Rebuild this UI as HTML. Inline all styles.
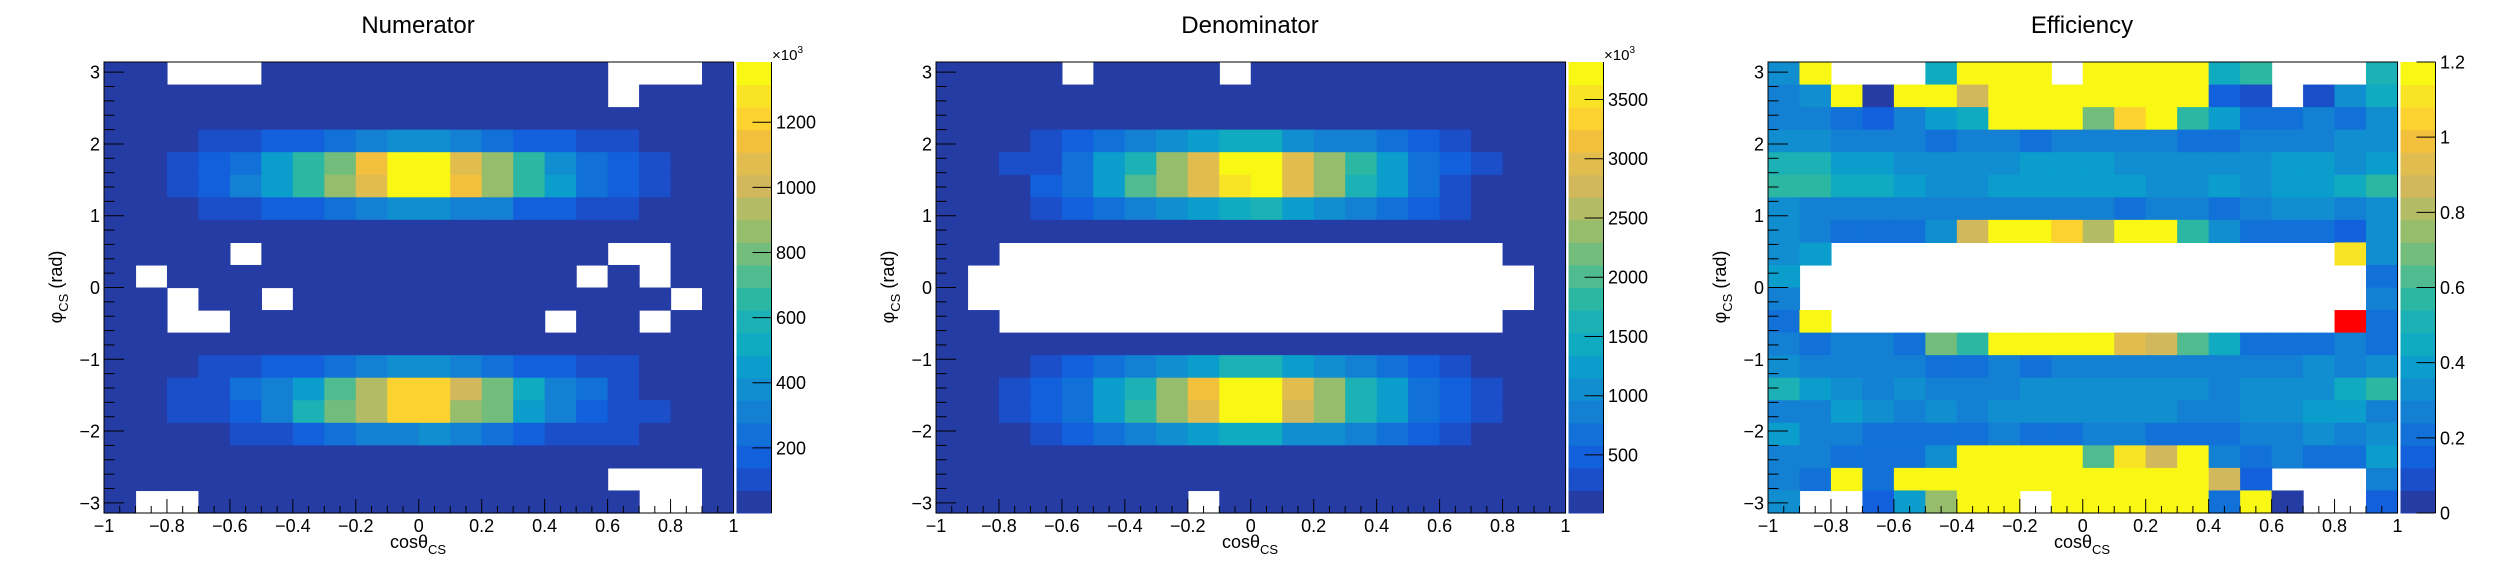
<!DOCTYPE html>
<html><head><meta charset="utf-8"><style>
html,body{margin:0;padding:0;background:#fff;}
svg{display:block;font-family:"Liberation Sans",sans-serif;}
</style></head><body>
<svg id="chart" width="2496" height="572" viewBox="0 0 2496 572" xmlns="http://www.w3.org/2000/svg"></svg>
<script>
// ---- data ----
const xEdges = [-1,-0.9,-0.8,-0.7,-0.6,-0.5,-0.4,-0.3,-0.2,-0.1,0,0.1,0.2,0.3,0.4,0.5,0.6,0.7,0.8,0.9,1];
const xTickLabels = ["\u22121","\u22120.8","\u22120.6","\u22120.4","\u22120.2","0","0.2","0.4","0.6","0.8","1"];
const yTickLabels = ["\u22123","\u22122","\u22121","0","1","2","3"];
const numTicks = [200,400,600,800,1000,1200];
const denTicks = [500,1000,1500,2000,2500,3000,3500];
const effTicks = [0,0.2,0.4,0.6,0.8,1,1.2];
const titles = ["Numerator","Denominator","Efficiency"];
const B=35, D=105;
// numerator (x10^3), rows from phi=+pi (top) down to -pi, 0 = empty
const numerator = [
[B,B,0,0,0,B,B,B,B,B,B,B,B,B,B,B,0,0,0,B],
[B,B,B,B,B,B,B,B,B,B,B,B,B,B,B,B,0,B,B,B],
[B,B,B,B,B,B,B,B,B,B,B,B,B,B,B,B,B,B,B,B],
[B,B,B,104,104,173,173,243,312,381,381,312,243,173,173,104,104,B,B,B],
[B,B,104,173,243,450,658,796,1142,1350,1350,1073,865,658,381,243,173,104,B,B],
[B,B,104,173,312,450,658,865,1073,1350,1350,1142,865,658,450,243,173,104,B,B],
[B,B,B,104,104,173,173,243,312,381,381,312,312,173,173,104,104,B,B,B],
[B,B,B,B,B,B,B,B,B,B,B,B,B,B,B,B,B,B,B,B],
[B,B,B,B,0,B,B,B,B,B,B,B,B,B,B,B,0,0,B,B],
[B,0,B,B,B,B,B,B,B,B,B,B,B,B,B,0,B,0,B,B],
[B,B,0,B,B,0,B,B,B,B,B,B,B,B,B,B,B,B,0,B],
[B,B,0,0,B,B,B,B,B,B,B,B,B,B,0,B,B,0,B,B],
[B,B,B,B,B,B,B,B,B,B,B,B,B,B,B,B,B,B,B,B],
[B,B,B,104,104,173,173,243,312,381,381,312,243,173,173,104,104,B,B,B],
[B,B,104,104,243,312,450,727,935,1211,1211,1004,796,519,312,243,104,B,B,B],
[B,B,104,104,173,312,589,796,935,1211,1211,865,796,450,312,173,104,104,B,B],
[B,B,B,B,104,104,173,243,312,312,381,312,243,173,104,104,104,B,B,B],
[B,B,B,B,B,B,B,B,B,B,B,B,B,B,B,B,B,B,B,B],
[B,B,B,B,B,B,B,B,B,B,B,B,B,B,B,B,0,0,0,B],
[B,0,0,B,B,B,B,B,B,B,B,B,B,B,B,B,B,0,0,B]];
const denominator = [
[D,D,D,D,0,D,D,D,D,0,D,D,D,D,D,D,D,D,D,D],
[D,D,D,D,D,D,D,D,D,D,D,D,D,D,D,D,D,D,D,D],
[D,D,D,D,D,D,D,D,D,D,D,D,D,D,D,D,D,D,D,D],
[D,D,D,295,486,676,866,1057,1247,1437,1437,1057,866,866,676,486,295,D,D,D],
[D,D,295,295,676,1247,1627,2389,2959,3720,3720,2959,2389,1818,1247,676,486,295,D,D],
[D,D,D,486,676,1247,2008,2389,2959,3530,3720,2959,2389,1627,1247,676,295,D,D,D],
[D,D,D,295,486,676,866,1057,1247,1437,1627,1247,1057,866,676,486,295,D,D,D],
[D,D,D,D,D,D,D,D,D,D,D,D,D,D,D,D,D,D,D,D],
[D,D,0,0,0,0,0,0,0,0,0,0,0,0,0,0,0,0,D,D],
[D,0,0,0,0,0,0,0,0,0,0,0,0,0,0,0,0,0,0,D],
[D,0,0,0,0,0,0,0,0,0,0,0,0,0,0,0,0,0,0,D],
[D,D,0,0,0,0,0,0,0,0,0,0,0,0,0,0,0,0,D,D],
[D,D,D,D,D,D,D,D,D,D,D,D,D,D,D,D,D,D,D,D],
[D,D,D,295,486,676,866,1057,1247,1627,1627,1247,1057,866,676,486,295,D,D,D],
[D,D,295,486,676,1247,1627,2389,3150,3720,3720,2959,2389,1627,1247,676,486,295,D,D],
[D,D,295,486,676,1247,1818,2389,2959,3720,3720,2769,2389,1627,1247,676,486,295,D,D],
[D,D,D,295,486,676,866,1057,1247,1437,1437,1057,1057,866,676,486,295,D,D,D],
[D,D,D,D,D,D,D,D,D,D,D,D,D,D,D,D,D,D,D,D],
[D,D,D,D,D,D,D,D,D,D,D,D,D,D,D,D,D,D,D,D],
[D,D,D,D,D,D,D,D,0,D,D,D,D,D,D,D,D,D,D,D]];
const N=null, INF=Infinity;
const efficiency = [
[.33,1.5,N,N,N,.45,1.5,1.5,1.5,N,1.5,1.5,1.5,1.5,.45,.57,N,N,N,.51],
[.27,.33,1.5,.03,1.5,1.5,.87,1.5,1.5,1.5,1.5,1.5,1.5,1.5,.15,.09,N,.09,.33,.45],
[.27,.27,.21,.15,.27,.39,.45,1.5,1.5,1.5,.69,1.05,1.5,.57,.39,.21,.21,.27,.21,.33],
[.33,.33,.27,.27,.27,.21,.27,.27,.21,.27,.27,.27,.27,.21,.21,.27,.27,.27,.33,.33],
[.51,.51,.39,.39,.33,.33,.33,.33,.39,.39,.39,.33,.33,.33,.33,.33,.39,.39,.33,.39],
[.57,.57,.45,.45,.39,.33,.33,.39,.39,.39,.39,.39,.33,.33,.39,.33,.39,.39,.45,.57],
[.33,.27,.27,.27,.27,.27,.27,.27,.27,.27,.27,.21,.27,.27,.21,.27,.33,.33,.27,.33],
[.33,.27,.21,.21,.21,.33,.87,1.5,1.5,1.05,.81,1.5,1.5,.57,.33,.21,.21,.21,.15,.33],
[.33,.39,N,N,N,N,N,N,N,N,N,N,N,N,N,N,N,N,1.11,.33],
[.39,N,N,N,N,N,N,N,N,N,N,N,N,N,N,N,N,N,N,.21],
[.27,N,N,N,N,N,N,N,N,N,N,N,N,N,N,N,N,N,N,.27],
[.21,1.5,N,N,N,N,N,N,N,N,N,N,N,N,N,N,N,N,INF,.21],
[.27,.21,.27,.27,.21,.69,.57,1.5,1.5,1.5,1.5,.93,.87,.63,.45,.21,.21,.21,.27,.21],
[.33,.27,.27,.27,.27,.21,.21,.27,.21,.27,.27,.27,.27,.27,.27,.27,.27,.33,.27,.33],
[.51,.39,.33,.27,.33,.27,.27,.27,.33,.33,.33,.33,.33,.33,.27,.33,.33,.33,.45,.57],
[.27,.27,.39,.33,.27,.33,.27,.33,.33,.33,.33,.33,.33,.27,.27,.33,.33,.39,.39,.27],
[.39,.27,.27,.21,.21,.21,.21,.27,.21,.21,.27,.27,.21,.21,.21,.27,.27,.33,.27,.33],
[.27,.27,.21,.21,.21,.33,1.5,1.5,1.5,1.5,.63,1.11,.87,1.5,.27,.21,.27,.21,.21,.39],
[.27,.21,1.5,.21,1.5,1.5,1.5,1.5,1.5,1.5,1.5,1.5,1.5,1.5,.87,.15,N,N,N,.27],
[.33,N,N,.15,.39,.75,1.5,1.5,N,1.5,1.5,1.5,1.5,1.5,.21,1.5,.03,N,N,.15]];
const zRanges = [[0,1385],[10,3816],[0,1.2]];
const palette = ["#263ca5","#1a4fc9","#1260dc","#1171d8","#1380d3","#108ecf","#0b9ecd","#10abc0","#1cb1b4","#2cb7a2","#4fbb8e","#73bd7c","#95bd6c","#b3bc65","#d2b85c","#e1bd4f","#f3c03e","#fbd22f","#f8e424","#f8f814"];

// ---- drawing ----
const NS="http://www.w3.org/2000/svg";
const svg=document.getElementById('chart');
function mk(tag,attrs,parent){const e=document.createElementNS(NS,tag);for(const k in attrs)e.setAttribute(k,attrs[k]);parent.appendChild(e);return e;}
const PL=104, PR=733.5, PT=62, PB=513, CL=736.5, CR=771.5;
const PI=Math.PI;
function sx(v){return PL+(v+1)/2*(PR-PL);}
function sy(v){return PB-(v+PI)/(2*PI)*(PB-PT);}
const datasets=[numerator,denominator,efficiency];
const panelNames=["numerator","denominator","efficiency"];
const tickSets=[numTicks,denTicks,effTicks];
const defs=mk('defs',{},svg);
for(let p=0;p<3;p++){
  const cp=mk('clipPath',{id:'clip'+p},defs); mk('rect',{x:0,y:0,width:832,height:572},cp);
  const g=mk('g',{transform:`translate(${p*832},0)`,'clip-path':`url(#clip${p})`},svg);
  
  
  const [zmin,zmax]=zRanges[p];
  const data=datasets[p];
  const nr=data.length;
  const yStep=2*PI/nr;
  const cg=mk('g',{},g);
  
  
  for(let r=0;r<nr;r++){
    for(let c=0;c<data[r].length;c++){
      const v=data[r][c];
      if(v===null||v===0) continue;
      let col;
      if(!isFinite(v)) col="#ff0000";
      else {let b=Math.floor((v-zmin)/(zmax-zmin)*palette.length); b=Math.max(0,Math.min(palette.length-1,b)); col=palette[b];}
      const yTop=PI-r*yStep, yBot=PI-(r+1)*yStep;
      const x0=sx(xEdges[c]), x1=sx(xEdges[c+1]);
      const y0=sy(yTop), y1=sy(yBot);
      const rc=mk('rect',{x:x0,y:y0,width:x1-x0+0.6,height:y1-y0+0.6,fill:col},cg);
      
      
    }
  }
  const fr=mk('rect',{x:PL,y:PT,width:PR-PL,height:PB-PT,fill:'none',stroke:'#000','stroke-width':1},g);
  
  
  for(let i=0;i<=40;i++){
    const v=-1+i*0.05; const X=sx(v);
    const len=(i%4===0)?14:7;
    mk('line',{x1:X,x2:X,y1:PB,y2:PB-len,stroke:'#000','stroke-width':1},g);
  }
  xTickLabels.forEach((t,i)=>{
    const v=-1+i*0.2;
    const tx=mk('text',{x:sx(v),y:532,'font-size':18,'text-anchor':'middle'},g);
    tx.textContent=t;
    
    
  });
  for(let v=-3.0;v<=3.01;v+=0.2){
    const Y=sy(v); const major=Math.abs(v-Math.round(v))<1e-6;
    mk('line',{x1:PL,x2:PL+(major?20:10.5),y1:Y,y2:Y,stroke:'#000','stroke-width':1},g);
  }
  yTickLabels.forEach((t,i)=>{
    const v=-3+i;
    const tx=mk('text',{x:100,y:sy(v)+6.5,'font-size':18,'text-anchor':'end'},g);
    tx.textContent=t;
    
    
  });
  const tt=mk('text',{x:418,y:33,'font-size':24,'text-anchor':'middle'},g);
  tt.textContent=titles[p];
  
  
  const xt=mk('text',{x:418,y:548,'font-size':18,'text-anchor':'middle'},g);
  xt.innerHTML='cos\u03b8<tspan font-size="13" dy="6">CS</tspan>';
  
  
  const yt=mk('text',{x:0,y:0,'font-size':18,'text-anchor':'middle',transform:'translate(62,287) rotate(-90)'},g);
  yt.innerHTML='\u03c6<tspan font-size="13" dy="6">CS</tspan><tspan dy="-6"> (rad)</tspan>';
  
  
  const pg=mk('g',{},g);
  
  
  const bh=(PB-PT)/palette.length;
  palette.forEach((c,i)=>{
    mk('rect',{x:CL,y:PB-(i+1)*bh,width:CR-CL,height:bh+0.5,fill:c},pg);
  });
  mk('line',{x1:CR,x2:CR,y1:PT,y2:PB,stroke:'#000','stroke-width':1},pg);
  tickSets[p].forEach(t=>{
    const Y=PB-(t-zmin)/(zmax-zmin)*(PB-PT);
    mk('line',{x1:CR-19,x2:CR,y1:Y,y2:Y,stroke:'#000','stroke-width':1},pg);
    const tx=mk('text',{x:776,y:Y+6.5,'font-size':18},pg);
    tx.textContent=String(t);
    
    
  });
  if(p<2){
    const ex=mk('text',{x:772,y:60,'font-size':15},g);
    ex.innerHTML='\u00d710<tspan font-size="10" dy="-7">3</tspan>';
    
    
  }
}
</script>
</body></html>
